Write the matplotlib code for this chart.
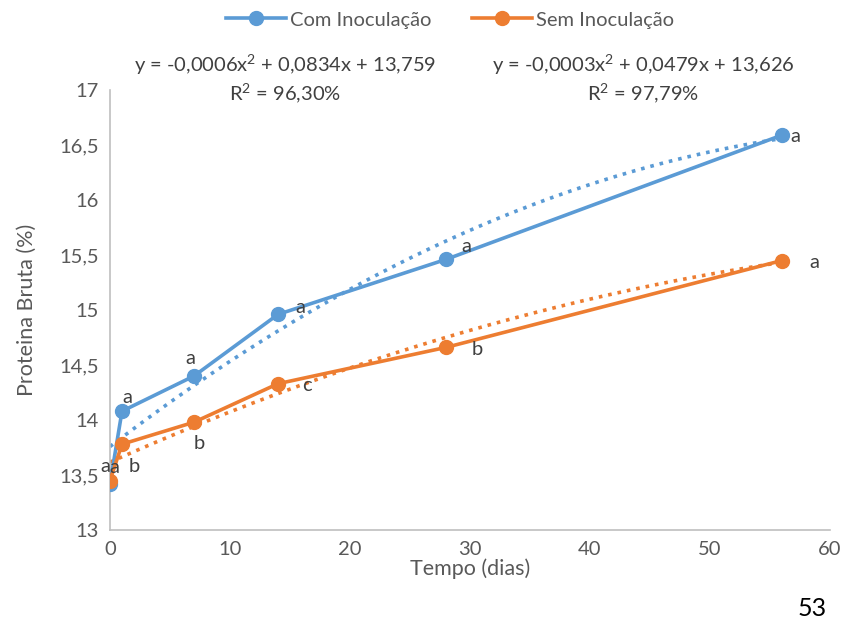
import matplotlib
matplotlib.use("Agg")
import matplotlib.pyplot as plt
import numpy as np
from matplotlib.ticker import FuncFormatter

# data
dias = [0, 1, 7, 14, 28, 56]
com_inoc = [13.42, 14.08, 14.40, 14.96, 15.46, 16.59]
sem_inoc = [13.45, 13.78, 13.98, 14.33, 14.66, 15.45]
letras_com = ['a', 'a', 'a', 'a', 'a', 'a']
letras_sem = ['a', 'b', 'b', 'c', 'b', 'a']
eq_com = "y = -0,0006x$^2$ + 0,0834x + 13,759\nR$^2$ = 96,30%"
eq_sem = "y = -0,0003x$^2$ + 0,0479x + 13,626\nR$^2$ = 97,79%"

# label offsets in pixels
off_com = [(-5, 17), (5, 14), (-4, 18), (22, 7), (20, 13), (13, -1)]
off_sem = [(4, 13), (12, -22), (5, -21), (29, -2), (31, -2), (32, -2)]

blue = '#5B9BD5'
orange = '#ED7D31'
grey = '#595959'

plt.rcParams['font.family'] = ['Lato', 'DejaVu Sans']
plt.rcParams['mathtext.fontset'] = 'custom'
plt.rcParams['mathtext.rm'] = 'Lato'

fig = plt.figure(figsize=(8.49, 6.26), dpi=100)
ax = fig.add_axes([110/849, 1-530/626, 720/849, 440/626])

# polynomial trendlines (order 2), as in the spreadsheet
xs = np.linspace(0, 56, 200)
ax.plot(xs, np.polyval(np.polyfit(dias, com_inoc, 2), xs), ':', color=blue, lw=2.6)
ax.plot(xs, np.polyval(np.polyfit(dias, sem_inoc, 2), xs), ':', color=orange, lw=2.6)
ax.plot(dias, com_inoc, '-o', color=blue, lw=2.6, ms=10, label='Com Inoculação', zorder=3)
ax.plot(dias, sem_inoc, '-o', color=orange, lw=2.6, ms=10, label='Sem Inoculação', zorder=3)

for x, y, t, o in zip(dias, com_inoc, letras_com, off_com):
    ax.annotate(t, (x, y), xytext=o, textcoords='offset pixels', ha='center', va='center',
                fontsize=14.5, color='#404040')
for x, y, t, o in zip(dias, sem_inoc, letras_sem, off_sem):
    ax.annotate(t, (x, y), xytext=o, textcoords='offset pixels', ha='center', va='center',
                fontsize=14.5, color='#404040')

ax.set_xlim(0, 60)
ax.set_ylim(13, 17)
ax.set_xticks(range(0, 61, 10))
ax.set_yticks(np.arange(13, 17.01, 0.5))
ax.yaxis.set_major_formatter(FuncFormatter(lambda v, p: ('%g' % v).replace('.', ',')))
for s in ['top', 'right']:
    ax.spines[s].set_visible(False)
for s in ['left', 'bottom']:
    ax.spines[s].set_color('#BFBFBF')
    ax.spines[s].set_linewidth(1.2)
ax.tick_params(length=0, labelsize=14.5, labelcolor=grey, pad=8)
ax.set_xlabel('Tempo (dias)', fontsize=15.5, color=grey, labelpad=0)
ax.set_ylabel('Proteina Bruta (%)', fontsize=15.5, color=grey, labelpad=16)

fig.legend(loc='center', bbox_to_anchor=(450/849, 1-20/626), ncol=2, frameon=False,
           fontsize=14.5, handlelength=3, columnspacing=2, labelcolor=grey, handletextpad=0.2)

fig.text(285/849, 1-79/626, eq_com, ha='center', va='center', fontsize=14.5, color='#404040',
         linespacing=1.25)
fig.text(643/849, 1-79/626, eq_sem, ha='center', va='center', fontsize=14.5, color='#404040',
         linespacing=1.25)
fig.text(812/849, 1-608/626, '53', ha='center', va='center', fontsize=18, color='black')

fig.savefig('out.png', dpi=100)
